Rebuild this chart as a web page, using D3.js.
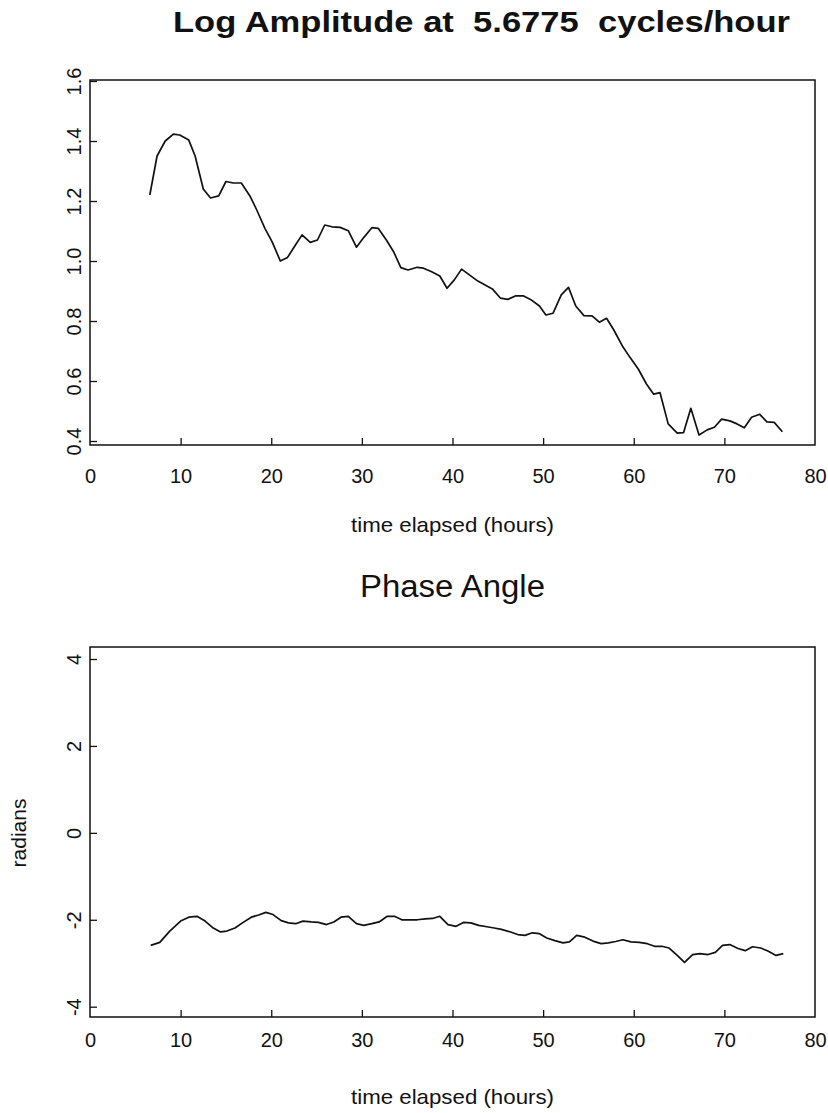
<!DOCTYPE html>
<html>
<head>
<meta charset="utf-8">
<script src="https://cdn.jsdelivr.net/npm/d3@7"></script>
<style>
  html, body { margin: 0; padding: 0; background: #fff; }
  svg { display: block; }
  text { font-family: "Liberation Sans", Arial, Helvetica, sans-serif; fill: #111; }
</style>
</head>
<body>
<svg id="chart" width="828" height="1113"></svg>
<script>
// Log amplitude of the 5.6775 cycles/hour component against elapsed time
const ampHours = [6.6, 7.4, 8.3, 9.2, 9.9, 10.9, 11.6, 12.5, 13.3, 14.2, 15.0, 15.8, 16.7, 17.7, 18.4,
  19.3, 20.1, 21.0, 21.8, 22.6, 23.4, 24.3, 25.1, 25.9, 26.7, 27.6, 28.5, 29.4, 30.2, 31.1, 31.8,
  32.7, 33.5, 34.3, 35.1, 36.1, 36.8, 37.7, 38.6, 39.4, 40.2, 41.0, 41.9, 42.8, 43.6, 44.4, 45.3,
  46.1, 47.0, 47.8, 48.6, 49.6, 50.3, 51.1, 52.0, 52.8, 53.6, 54.5, 55.4, 56.2, 57.0, 57.8, 58.8,
  59.6, 60.5, 61.4, 62.2, 62.9, 63.8, 64.8, 65.5, 66.3, 67.2, 68.1, 68.9, 69.7, 70.6, 71.4, 72.2,
  73.0, 73.9, 74.7, 75.5, 76.4];
const ampValues = [1.22, 1.35, 1.40, 1.423, 1.42, 1.403, 1.35, 1.24, 1.21, 1.217, 1.265, 1.26, 1.26, 1.214, 1.17,
  1.109, 1.064, 1.0, 1.012, 1.05, 1.087, 1.062, 1.07, 1.12, 1.114, 1.112, 1.101, 1.046, 1.078, 1.111, 1.109,
  1.07, 1.031, 0.978, 0.97, 0.979, 0.976, 0.964, 0.95, 0.909, 0.937, 0.973, 0.953, 0.933, 0.92, 0.907, 0.876,
  0.872, 0.884, 0.884, 0.872, 0.85, 0.82, 0.826, 0.887, 0.912, 0.85, 0.818, 0.817, 0.796, 0.809, 0.77, 0.714,
  0.678, 0.64, 0.59, 0.556, 0.561, 0.457, 0.426, 0.428, 0.509, 0.42, 0.437, 0.446, 0.473, 0.467, 0.457, 0.444,
  0.479, 0.489, 0.464, 0.462, 0.431];

// Phase angle (radians) of the same component
const phaseHours = [6.7, 7.7, 8.8, 10.0, 10.9, 11.8, 12.7, 13.6, 14.4, 15.1, 16.0, 16.9, 17.8, 18.6, 19.4,
  20.2, 21.1, 21.9, 22.7, 23.5, 24.4, 25.2, 26.1, 26.9, 27.7, 28.5, 29.4, 30.2, 31.1, 31.9, 32.8,
  33.6, 34.4, 35.3, 36.1, 37.0, 37.8, 38.6, 39.5, 40.4, 41.2, 42.0, 42.9, 43.8, 44.6, 45.4, 46.4,
  47.2, 48.0, 48.8, 49.6, 50.4, 51.3, 52.2, 52.9, 53.7, 54.6, 55.5, 56.4, 57.2, 58.0, 58.8, 59.7,
  60.6, 61.5, 62.3, 63.1, 63.9, 64.8, 65.6, 66.5, 67.3, 68.2, 69.0, 69.8, 70.6, 71.5, 72.3, 73.1,
  74.0, 74.8, 75.7, 76.5];
const phaseValues = [-2.59, -2.52, -2.26, -2.03, -1.94, -1.92, -2.03, -2.19, -2.28, -2.26, -2.19, -2.06, -1.94, -1.89, -1.83,
  -1.88, -2.02, -2.07, -2.09, -2.03, -2.05, -2.06, -2.11, -2.05, -1.94, -1.92, -2.09, -2.13, -2.09, -2.05, -1.92,
  -1.92, -2.0, -2.0, -2.0, -1.98, -1.97, -1.92, -2.11, -2.15, -2.06, -2.07, -2.13, -2.16, -2.19, -2.22, -2.28,
  -2.34, -2.36, -2.30, -2.32, -2.42, -2.48, -2.53, -2.51, -2.36, -2.40, -2.49, -2.55, -2.53, -2.50, -2.46, -2.51,
  -2.52, -2.55, -2.61, -2.61, -2.65, -2.82, -2.98, -2.80, -2.78, -2.80, -2.75, -2.59, -2.57, -2.66, -2.71, -2.62,
  -2.65, -2.72, -2.82, -2.78];

const xTicks = [0, 10, 20, 30, 40, 50, 60, 70, 80];
const ampTicks = [0.4, 0.6, 0.8, 1.0, 1.2, 1.4, 1.6];
const phaseTicks = [-4, -2, 0, 2, 4];

const svg = d3.select("#chart");
const ink = "#111";
const face = '"Liberation Sans", Arial, sans-serif';

const x = d3.scaleLinear().domain([0, 80]).range([90, 815]);

function panel(opts) {
  const g = svg.append("g");
  const y = d3.scaleLinear().domain(opts.yDomain).range(opts.yRange);

  // frame
  g.append("rect")
    .attr("x", x(0)).attr("y", opts.boxTop)
    .attr("width", x(80) - x(0)).attr("height", opts.boxBottom - opts.boxTop)
    .attr("fill", "none").attr("stroke", ink).attr("stroke-width", 1.5);

  // bottom axis, ticks pointing into the frame
  const xa = g.append("g")
    .attr("transform", `translate(0,${opts.boxBottom})`)
    .call(d3.axisBottom(x).tickValues(xTicks).tickFormat(d3.format("d"))
      .tickSize(-7).tickPadding(opts.xPad));
  xa.select(".domain").remove();
  xa.selectAll("line").attr("stroke", ink).attr("stroke-width", 1.3);
  xa.selectAll("text").attr("font-size", 20).attr("fill", ink).attr("font-family", face);
  xa.selectAll(".tick").filter(d => d === 0 || d === 80).select("line").remove();

  // left axis, rotated labels
  const ya = g.append("g")
    .attr("transform", `translate(${x(0)},0)`)
    .call(d3.axisLeft(y).tickValues(opts.yTicks).tickFormat(opts.fmt).tickSize(-7));
  ya.select(".domain").remove();
  ya.selectAll("line").attr("stroke", ink).attr("stroke-width", 1.3);
  ya.selectAll("text")
    .attr("x", null).attr("dy", null)
    .attr("text-anchor", "middle")
    .attr("transform", "translate(-9,0) rotate(-90)")
    .attr("font-size", 20).attr("fill", ink).attr("font-family", face);

  // series
  const pts = opts.hours.map((h, i) => [h, opts.values[i]]);
  g.append("path")
    .datum(pts)
    .attr("fill", "none").attr("stroke", ink).attr("stroke-width", 1.7)
    .attr("stroke-linejoin", "round")
    .attr("d", d3.line().x(d => x(d[0])).y(d => y(d[1])));

  // axis title
  g.append("text")
    .attr("x", x(40)).attr("y", opts.xLabelY)
    .attr("text-anchor", "middle").attr("font-size", 21)
    .attr("textLength", 203).attr("lengthAdjust", "spacingAndGlyphs")
    .text("time elapsed (hours)");

  return g;
}

panel({
  hours: ampHours, values: ampValues,
  yDomain: [0.4, 1.6], yRange: [441, 81], boxTop: 80, boxBottom: 445,
  yTicks: ampTicks, fmt: d3.format(".1f"), xLabelY: 532, xPad: 24
});

const pb = panel({
  hours: phaseHours, values: phaseValues,
  yDomain: [-4, 4], yRange: [1006.7, 659], boxTop: 647, boxBottom: 1017,
  yTicks: phaseTicks, fmt: d => d3.format("d")(d).replace("−", "-"), xLabelY: 1104, xPad: 16
});

pb.append("text")
  .attr("transform", "translate(26,833) rotate(-90)")
  .attr("text-anchor", "middle").attr("font-size", 21)
  .text("radians");

// titles
svg.append("text")
  .attr("x", 173).attr("y", 32)
  .attr("font-size", 30).attr("font-weight", "bold")
  .attr("textLength", 617).attr("lengthAdjust", "spacingAndGlyphs")
  .style("white-space", "pre")
  .text("Log Amplitude at  5.6775  cycles/hour");

svg.append("text")
  .attr("x", x(40)).attr("y", 597)
  .attr("text-anchor", "middle").attr("font-size", 31)
  .attr("textLength", 185).attr("lengthAdjust", "spacingAndGlyphs")
  .text("Phase Angle");
</script>
</body>
</html>
